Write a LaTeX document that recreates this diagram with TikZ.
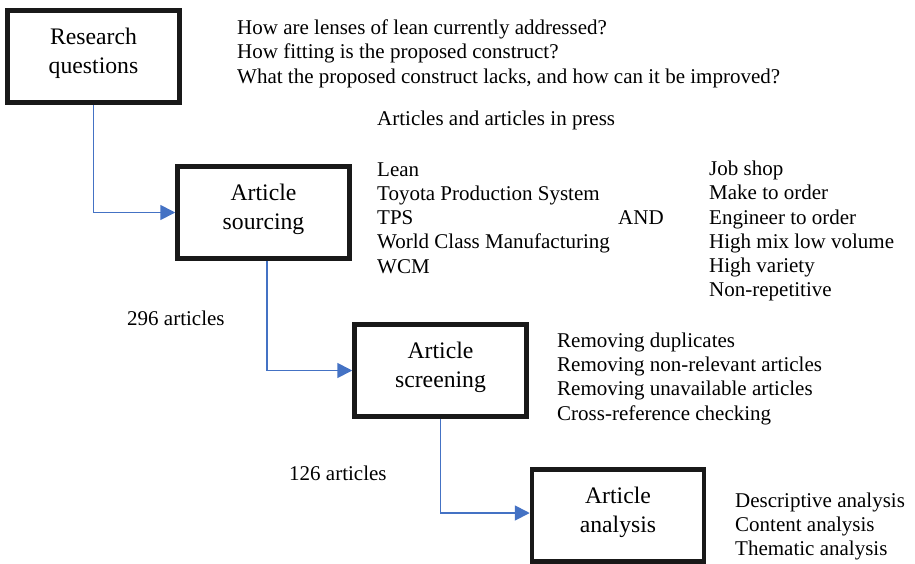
\documentclass[tikz,border=0pt]{standalone}
\usepackage{fontspec}
\setmainfont{Liberation Serif}
\usepackage{tikz}
\usetikzlibrary{arrows.meta}
\definecolor{flowblue}{RGB}{68,114,196}
\tikzstyle{stagebox} = [draw=black!90, line width=4.5pt, minimum width=172pt, minimum height=92pt, align=center, text depth=12pt, font=\fontsize{23.7}{29.3}\selectfont]
\tikzstyle{arrow} = [flowblue, line width=1.8pt, -{Triangle[length=15pt,width=15pt]}]
\tikzstyle{notes} = [anchor=north west, inner sep=0pt, align=left, font=\fontsize{21}{24.3}\selectfont]
\tikzstyle{count} = [anchor=base west, inner sep=0pt, font=\fontsize{21}{24.3}\selectfont]

\begin{document}
\begin{tikzpicture}[x=1pt, y=-1pt]
  \useasboundingbox (0,0) rectangle (915,563);

  % Stages
  \node[stagebox] (rq)  at (93.5,56.5)  {Research\\questions};
  \node[stagebox] (src) at (263.5,212.5) {Article\\sourcing};
  \node[stagebox] (scr) at (440.5,370.5) {Article\\screening};
  \node[stagebox] (ana) at (618,515.5)  {Article\\analysis};

  % Flow between stages
  \draw[arrow] (rq.south)  |- (src.west);
  \draw[arrow] ([xshift=3.5pt]src.south) |- (scr.west);
  \draw[arrow] (scr.south) |- ([yshift=2.5pt]ana.west);

  % Notes beside the stages
  \node[notes] (qlist) at (237,19.7) {How are lenses of lean currently addressed?\\How fitting is the proposed construct?\\What the proposed construct lacks, and how can it be improved?};
  \node[count] (press) at (377,125) {Articles and articles in press};
  \node[notes] (leanlist) at (377,162.1) {Lean\\Toyota Production System\\TPS\\World Class Manufacturing\\WCM};
  \node[count] (andword) at (618,224) {AND};
  \node[notes] (joblist) at (709,160.7) {Job shop\\Make to order\\Engineer to order\\High mix low volume\\High variety\\Non-repetitive};
  \node[count] (n296) at (127,325.7) {296 articles};
  \node[notes] (scrlist) at (557,332.4) {Removing duplicates\\Removing non-relevant articles\\Removing unavailable articles\\Cross-reference checking};
  \node[count] (n126) at (289,480) {126 articles};
  \node[notes] (analist) at (735,492.4) {Descriptive analysis\\Content analysis\\Thematic analysis};

\end{tikzpicture}
\end{document}
